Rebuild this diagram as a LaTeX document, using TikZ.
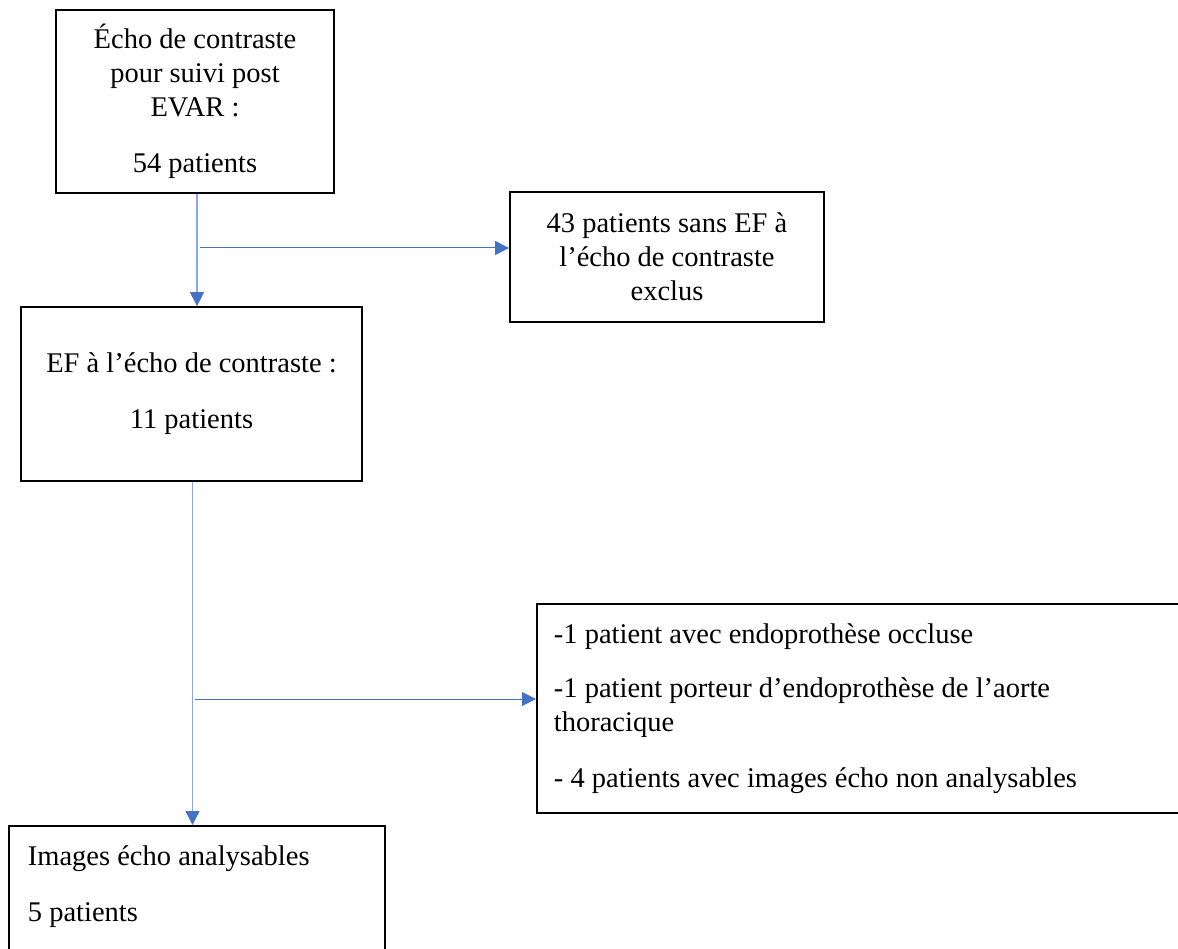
\documentclass[tikz,border=0pt]{standalone}
\usepackage{fontspec}
\setmainfont{Liberation Serif}
\usetikzlibrary{arrows.meta,calc}
\definecolor{arrowblue}{RGB}{68,114,196}
\definecolor{lineblue}{RGB}{140,168,220}
\begin{document}
\begin{tikzpicture}[x=1pt,y=-1pt,
  box/.style={draw=black, line width=1.8pt, inner sep=0pt, font=\fontsize{28.5}{34}\selectfont},
  hline/.style={draw=arrowblue, line width=1pt, -{Triangle[length=14pt,width=14pt,color=arrowblue]}},
  vline/.style={draw=lineblue, line width=1.4pt, -{Triangle[length=14pt,width=14pt,color=arrowblue]}}]
\path[use as bounding box, clip] (0,0) rectangle (1178,949);
\fill[white] (0,0) rectangle (1178,949);

\node[box, minimum width=278pt, minimum height=183pt, align=center] (b1) at (195,101.5)
  {Écho de contraste\\pour suivi post\\EVAR :\\[22pt]54 patients};
\node[box, minimum width=314pt, minimum height=130pt, align=center] (b2) at (667,257)
  {43 patients sans EF à\\l’écho de contraste\\exclus};
\node[box, minimum width=341pt, minimum height=174pt, align=center] (b3) at (191.5,394)
  {EF à l’écho de contraste :\\[22pt]11 patients};
\node[box, anchor=north west, minimum width=664pt, minimum height=209pt, align=flush left,
  text width=630pt, inner xsep=17pt] (b4) at (536,603)
  {-1 patient avec endoprothèse occluse\\[20pt]-1 patient porteur d’endoprothèse de l’aorte\\thoracique\\[22pt]- 4 patients avec images écho non analysables};
\node[box, anchor=north west, minimum width=376pt, align=flush left, text width=338pt,
  inner xsep=19pt, inner ysep=20pt] (b5) at (8,825)
  {Images écho analysables\\[22pt]5 patients\\[60pt]\mbox{}};

\draw[vline] ([xshift=2pt]b1.south) -- ([xshift=2pt]b1.south |- b3.north);
\coordinate (j1) at (200,248);
\draw[hline] (j1) -- (j1 -| b2.west);
\draw[vline] ([xshift=1pt]b3.south) -- ([xshift=1pt]b3.south |- b5.north);
\coordinate (j2) at (195,699);
\draw[hline] (j2) -- (j2 -| b4.west);
\end{tikzpicture}
\end{document}
